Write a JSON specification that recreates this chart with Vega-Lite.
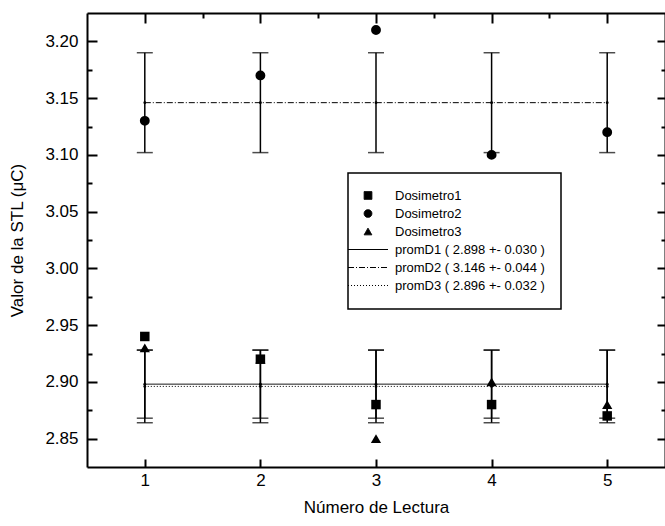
{
  "$schema": "https://vega.github.io/schema/vega-lite/v6.json",
  "width": 578,
  "height": 454,
  "autosize": "none",
  "padding": {"left": 87, "top": 13, "right": 0, "bottom": 59},
  "background": "white",
  "config": {
    "view": {"stroke": null},
    "font": "Liberation Sans",
    "axis": {
      "grid": false,
      "domainColor": "black",
      "tickColor": "black",
      "labelColor": "black",
      "titleColor": "black",
      "domainWidth": 2,
      "tickWidth": 2,
      "labelFont": "Liberation Sans",
      "titleFont": "Liberation Sans",
      "titleFontWeight": "normal"
    }
  },
  "datasets": {
    "pts": [
      {"lectura": 1, "serie": "Dosimetro1", "valor": 2.94},
      {"lectura": 2, "serie": "Dosimetro1", "valor": 2.92},
      {"lectura": 3, "serie": "Dosimetro1", "valor": 2.88},
      {"lectura": 4, "serie": "Dosimetro1", "valor": 2.88},
      {"lectura": 5, "serie": "Dosimetro1", "valor": 2.87},
      {"lectura": 1, "serie": "Dosimetro2", "valor": 3.13},
      {"lectura": 2, "serie": "Dosimetro2", "valor": 3.17},
      {"lectura": 3, "serie": "Dosimetro2", "valor": 3.21},
      {"lectura": 4, "serie": "Dosimetro2", "valor": 3.10},
      {"lectura": 5, "serie": "Dosimetro2", "valor": 3.12},
      {"lectura": 1, "serie": "Dosimetro3", "valor": 2.93},
      {"lectura": 2, "serie": "Dosimetro3", "valor": 2.92},
      {"lectura": 3, "serie": "Dosimetro3", "valor": 2.85},
      {"lectura": 4, "serie": "Dosimetro3", "valor": 2.90},
      {"lectura": 5, "serie": "Dosimetro3", "valor": 2.88}
    ],
    "prom": [
      {"lectura": 1, "serie": "promD1 ( 2.898 +- 0.030 )", "media": 2.898, "lo": 2.868, "hi": 2.928},
      {"lectura": 2, "serie": "promD1 ( 2.898 +- 0.030 )", "media": 2.898, "lo": 2.868, "hi": 2.928},
      {"lectura": 3, "serie": "promD1 ( 2.898 +- 0.030 )", "media": 2.898, "lo": 2.868, "hi": 2.928},
      {"lectura": 4, "serie": "promD1 ( 2.898 +- 0.030 )", "media": 2.898, "lo": 2.868, "hi": 2.928},
      {"lectura": 5, "serie": "promD1 ( 2.898 +- 0.030 )", "media": 2.898, "lo": 2.868, "hi": 2.928},
      {"lectura": 1, "serie": "promD2 ( 3.146 +- 0.044 )", "media": 3.146, "lo": 3.102, "hi": 3.190},
      {"lectura": 2, "serie": "promD2 ( 3.146 +- 0.044 )", "media": 3.146, "lo": 3.102, "hi": 3.190},
      {"lectura": 3, "serie": "promD2 ( 3.146 +- 0.044 )", "media": 3.146, "lo": 3.102, "hi": 3.190},
      {"lectura": 4, "serie": "promD2 ( 3.146 +- 0.044 )", "media": 3.146, "lo": 3.102, "hi": 3.190},
      {"lectura": 5, "serie": "promD2 ( 3.146 +- 0.044 )", "media": 3.146, "lo": 3.102, "hi": 3.190},
      {"lectura": 1, "serie": "promD3 ( 2.896 +- 0.032 )", "media": 2.896, "lo": 2.864, "hi": 2.928},
      {"lectura": 2, "serie": "promD3 ( 2.896 +- 0.032 )", "media": 2.896, "lo": 2.864, "hi": 2.928},
      {"lectura": 3, "serie": "promD3 ( 2.896 +- 0.032 )", "media": 2.896, "lo": 2.864, "hi": 2.928},
      {"lectura": 4, "serie": "promD3 ( 2.896 +- 0.032 )", "media": 2.896, "lo": 2.864, "hi": 2.928},
      {"lectura": 5, "serie": "promD3 ( 2.896 +- 0.032 )", "media": 2.896, "lo": 2.864, "hi": 2.928}
    ]
  },
  "layer": [
    {
      "data": {"name": "prom"},
      "mark": {"type": "rule", "color": "black", "strokeWidth": 1.5},
      "encoding": {
        "x": {"field": "lectura", "type": "quantitative", "scale": {"domain": [0.5, 5.5], "nice": false, "zero": false},
              "axis": {"orient": "top", "values": [1, 2, 3, 4, 5], "labels": false, "tickSize": -10, "domain": true, "title": null}},
        "y": {"field": "lo", "type": "quantitative", "scale": {"domain": [2.825, 3.225], "nice": false, "zero": false},
              "axis": {"orient": "right", "values": [2.85, 2.9, 2.95, 3.0, 3.05, 3.1, 3.15, 3.2], "labels": false, "tickSize": -8, "domain": true, "title": null}},
        "y2": {"field": "hi"}
      }
    },
    {
      "data": {"name": "prom"},
      "mark": {"type": "tick", "orient": "horizontal", "color": "black", "size": 16, "thickness": 1.5},
      "encoding": {
        "x": {"field": "lectura", "type": "quantitative",
              "axis": {"orient": "top", "values": [1.5, 2.5, 3.5, 4.5], "labels": false, "tickSize": -5, "domain": false, "title": null}},
        "y": {"field": "lo", "type": "quantitative",
              "axis": {"orient": "right", "values": [2.875, 2.925, 2.975, 3.025, 3.075, 3.125, 3.175], "labels": false, "tickSize": -4, "domain": false, "title": null}}
      }
    },
    {
      "data": {"name": "prom"},
      "mark": {"type": "tick", "orient": "horizontal", "color": "black", "size": 16, "thickness": 1.5},
      "encoding": {
        "x": {"field": "lectura", "type": "quantitative", "axis": null},
        "y": {"field": "hi", "type": "quantitative", "axis": null}
      }
    },
    {
      "data": {"name": "prom"},
      "mark": {"type": "line", "color": "black", "strokeWidth": 1},
      "encoding": {
        "x": {"field": "lectura", "type": "quantitative", "axis": null},
        "y": {"field": "media", "type": "quantitative",
              "axis": {"orient": "left", "values": [2.875, 2.925, 2.975, 3.025, 3.075, 3.125, 3.175], "labels": false, "tickSize": -5, "domain": false, "title": null}},
        "detail": {"field": "serie", "type": "nominal"},
        "strokeDash": {"field": "serie", "type": "nominal", "legend": null,
                       "scale": {"domain": ["promD1 ( 2.898 +- 0.030 )", "promD2 ( 3.146 +- 0.044 )", "promD3 ( 2.896 +- 0.032 )"],
                                 "range": [[1, 0], [6, 2, 1, 2], [1, 2]]}}
      }
    },
    {
      "data": {"name": "prom"},
      "mark": {"type": "point", "filled": true, "color": "black", "size": 8, "opacity": 1},
      "encoding": {
        "x": {"field": "lectura", "type": "quantitative", "axis": null},
        "y": {"field": "media", "type": "quantitative", "axis": null}
      }
    },
    {
      "data": {"name": "pts"},
      "mark": {"type": "point", "filled": true, "color": "black", "opacity": 1},
      "encoding": {
        "x": {"field": "lectura", "type": "quantitative",
              "axis": {"orient": "bottom", "values": [1, 2, 3, 4, 5], "format": "d", "labelFontSize": 17, "tickSize": -8, "labelPadding": 13, "domain": true,
                       "title": "Número de Lectura", "titleFontSize": 17, "titleY": 40, "titleX": 289, "titleBaseline": "middle"}},
        "y": {"field": "valor", "type": "quantitative",
              "axis": {"orient": "left", "values": [2.85, 2.9, 2.95, 3.0, 3.05, 3.1, 3.15, 3.2], "format": ".2f", "labelFontSize": 17, "tickSize": -10, "labelPadding": 19, "domain": true,
                       "title": "Valor de la STL (μC)", "titleFontSize": 17, "titleX": -70, "titleY": 227, "titleAngle": -90, "titleAlign": "center", "titleBaseline": "middle"}},
        "size": {"field": "serie", "type": "nominal", "legend": null,
                 "scale": {"domain": ["Dosimetro1", "Dosimetro2", "Dosimetro3"], "range": [90, 105, 210]}},
        "shape": {"field": "serie", "type": "nominal",
                  "scale": {"domain": ["Dosimetro1", "Dosimetro2", "Dosimetro3", "promD1 ( 2.898 +- 0.030 )", "promD2 ( 3.146 +- 0.044 )", "promD3 ( 2.896 +- 0.032 )"],
                            "range": ["square", "circle", "triangle-up", "M-4,0L4,0", "M-4,0L4,0", "M-4,0L4,0"]},
                  "legend": {
                    "title": null,
                    "orient": "none",
                    "legendX": 261,
                    "legendY": 160,
                    "padding": 16,
                    "strokeColor": "black",
                    "fillColor": "white",
                    "symbolSize": 80,
                    "symbolOffset": -2.5,
                    "labelOffset": 20.5,
                    "labelFontSize": 13,
                    "labelFont": "Liberation Sans",
                    "labelColor": "black",
                    "rowPadding": 4,
                    "labelLimit": 300,
                    "encoding": {
                      "legend": {"strokeWidth": {"value": 1.5}},
                      "symbols": {
                        "size": {"value": {"signal": "indexof('' + (datum.value || datum), 'Dos') == 0 ? 60 : 100"}},
                        "stroke": {"value": "black"},
                        "strokeWidth": {"value": 1},
                        "strokeDash": {"value": {"signal": "indexof('' + datum.value, 'promD2') == 0 ? [6, 2, 1, 2] : (indexof('' + datum.value, 'promD3') == 0 ? [1, 2] : [1, 0])"}},
                        "opacity": {"value": 1}
                      }
                    }
                  }}
      }
    }
  ],
  "resolve": {"axis": {"x": "independent", "y": "independent"}}
}
